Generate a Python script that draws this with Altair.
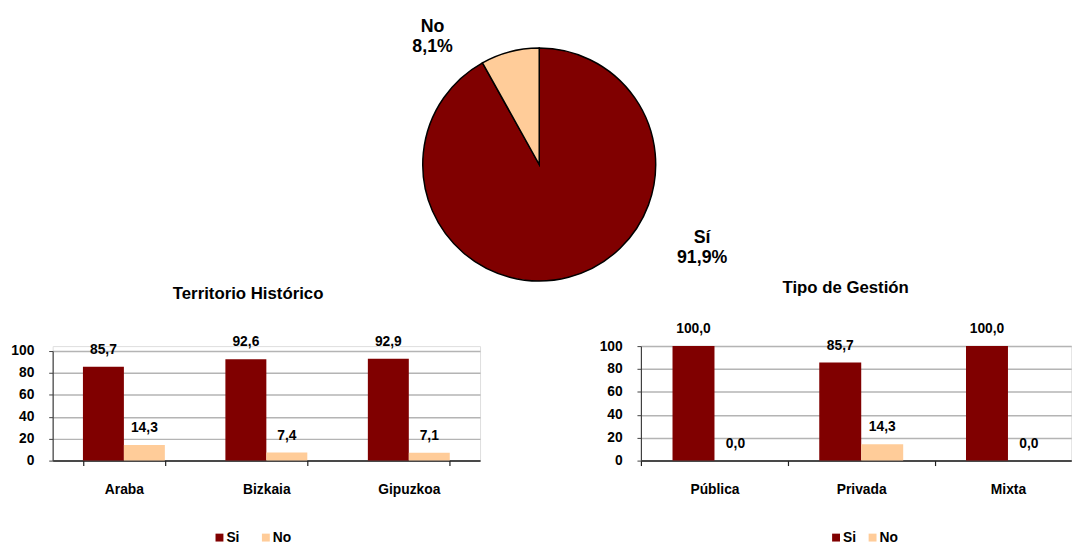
import altair as alt
import pandas as pd

# ---------------- data ----------------
pie_cats = ["Sí", "No"]
pie_vals = [91.9, 8.1]
pie_labels = ["Sí\n91,9%", "No\n8,1%"]

terr_title = "Territorio Histórico"
terr_cats = ["Araba", "Bizkaia", "Gipuzkoa"]
terr_si = [85.7, 92.6, 92.9]
terr_no = [14.3, 7.4, 7.1]

gest_title = "Tipo de Gestión"
gest_cats = ["Pública", "Privada", "Mixta"]
gest_si = [100.0, 85.7, 100.0]
gest_no = [0.0, 14.3, 0.0]

series = ["Si", "No"]
y_ticks = [0, 20, 40, 60, 80, 100]

# ---------------- style ----------------
DARK = "#800000"
LIGHT = "#FFCC99"
FONT = "Liberation Sans"
GRID = "#b4b4b4"

# ---------------- pie ----------------
pie_df = pd.DataFrame({"cat": pie_cats, "val": pie_vals, "label": pie_labels,
                       "ord": list(range(len(pie_cats)))})
theta_scale = alt.Scale(domain=[0, 100])

pie_arc = alt.Chart(pie_df).mark_arc(outerRadius=118, stroke="black", strokeWidth=1.5).encode(
    theta=alt.Theta("val:Q", stack=True, scale=theta_scale),
    order=alt.Order("ord:Q"),
    color=alt.Color("cat:N", scale=alt.Scale(domain=pie_cats, range=[DARK, LIGHT]), legend=None),
)


def pie_label(cat, dx, dy):
    return alt.Chart(pie_df).transform_window(
        cum="sum(val)", sort=[alt.SortField("ord")]
    ).transform_calculate(
        mid="datum.cum - datum.val / 2"
    ).transform_filter(
        f"datum.cat == '{cat}'"
    ).mark_text(
        radius=140, dx=dx, dy=dy, font=FONT, fontSize=18, fontWeight="bold",
        lineBreak="\n", lineHeight=20, align="center", baseline="middle", color="black",
    ).encode(
        theta=alt.Theta("mid:Q", stack=None, scale=theta_scale),
        text="label:N",
    )


pie = alt.layer(pie_arc, pie_label("No", -72.8, -3.6), pie_label("Sí", 129.8, -60.6)).properties(
    width=288, height=236
)


# ---------------- bar charts ----------------
def bars(cats, si, no, title, width, xscale, yrange, right_style, title_dx, title_offset,
         legend_x, legend_y, legend_pad):
    df = pd.DataFrame({"cat": cats + cats,
                       "serie": ["Si"] * len(cats) + ["No"] * len(cats),
                       "val": si + no})
    axis_common = dict(labelAngle=0, domainColor="#202020", domainWidth=1.5,
                       tickSize=5, tickColor="#202020", tickWidth=1.2, labelPadding=17,
                       labelFont=FONT, labelFontSize=14, labelFontWeight="bold", labelColor="black")
    if right_style:
        # ticks at the left edge of each group (the last edge lies past the page)
        half = right_style / 2
        xaxis = alt.Axis(tickOffset=-half, labelOffset=half, **axis_common)
    else:
        xaxis = alt.Axis(tickBand="extent", **axis_common)
    yaxis = alt.Axis(values=y_ticks, grid=True, gridColor=GRID, gridWidth=1.5,
                     domainColor="#404040", domainWidth=1.2, tickColor="#404040", tickSize=4,
                     labelPadding=15, labelFont=FONT, labelFontSize=14, labelFontWeight="bold",
                     labelColor="black")
    base = alt.Chart(df).transform_calculate(
        txt="replace(format(datum.val, '.1f'), '.', ',')"
    ).encode(
        x=alt.X("cat:N", sort=cats, title=None, scale=xscale, axis=xaxis),
        xOffset=alt.XOffset("serie:N", sort=series, scale=alt.Scale(paddingInner=0, paddingOuter=0)),
        y=alt.Y("val:Q", title=None, scale=alt.Scale(domain=[0, 100], range=yrange), axis=yaxis),
    )
    bar = base.mark_bar().encode(
        color=alt.Color("serie:N", scale=alt.Scale(domain=series, range=[DARK, LIGHT]),
                        legend=alt.Legend(orient="none", legendX=legend_x, legendY=legend_y,
                                          direction="horizontal", title=None, symbolType="square",
                                          symbolSize=64, symbolStrokeWidth=0, labelFont=FONT,
                                          labelFontSize=14, labelFontWeight="bold", labelColor="black",
                                          labelOffset=0, columnPadding=legend_pad, padding=0))
    )
    txt = base.mark_text(dy=-17, baseline="middle", align="center", font=FONT, fontSize=14,
                         fontWeight="bold", color="black").encode(text="txt:N")
    return alt.layer(bar, txt).properties(
        width=width, height=116,
        title=alt.TitleParams(text=title, anchor="middle", frame="group", dx=title_dx,
                              offset=title_offset, baseline="alphabetic", font=FONT, fontSize=17,
                              fontWeight="bold", color="black"),
    )


left_scale = alt.Scale(paddingInner=0.425, paddingOuter=0.2125)
right_scale = alt.Scale(paddingInner=0.428, paddingOuter=0.1803, align=0.597)
right_step = 436 / (3 - 0.428 + 2 * 0.1803)

left = bars(terr_cats, terr_si, terr_no, terr_title, 433, left_scale, [116, 5], 0,
            -18.5, 20, 162, 187, 19)
right = bars(gest_cats, gest_si, gest_no, gest_title, 436, right_scale, [116, 0], right_step,
             -10.6, 13, 190.7, 187, 9)

row = alt.hconcat(left, right, spacing=119).resolve_scale(
    x="independent", y="independent", color="independent", xOffset="independent"
)

chart = alt.vconcat(pie, row, spacing=-6, center=True).resolve_scale(
    color="independent"
).properties(
    padding={"left": 2, "top": 6, "right": 0, "bottom": 0}
).configure_view(stroke=None).configure(font=FONT)

chart.save("out.html", embed_options={"renderer": "svg", "actions": False})
